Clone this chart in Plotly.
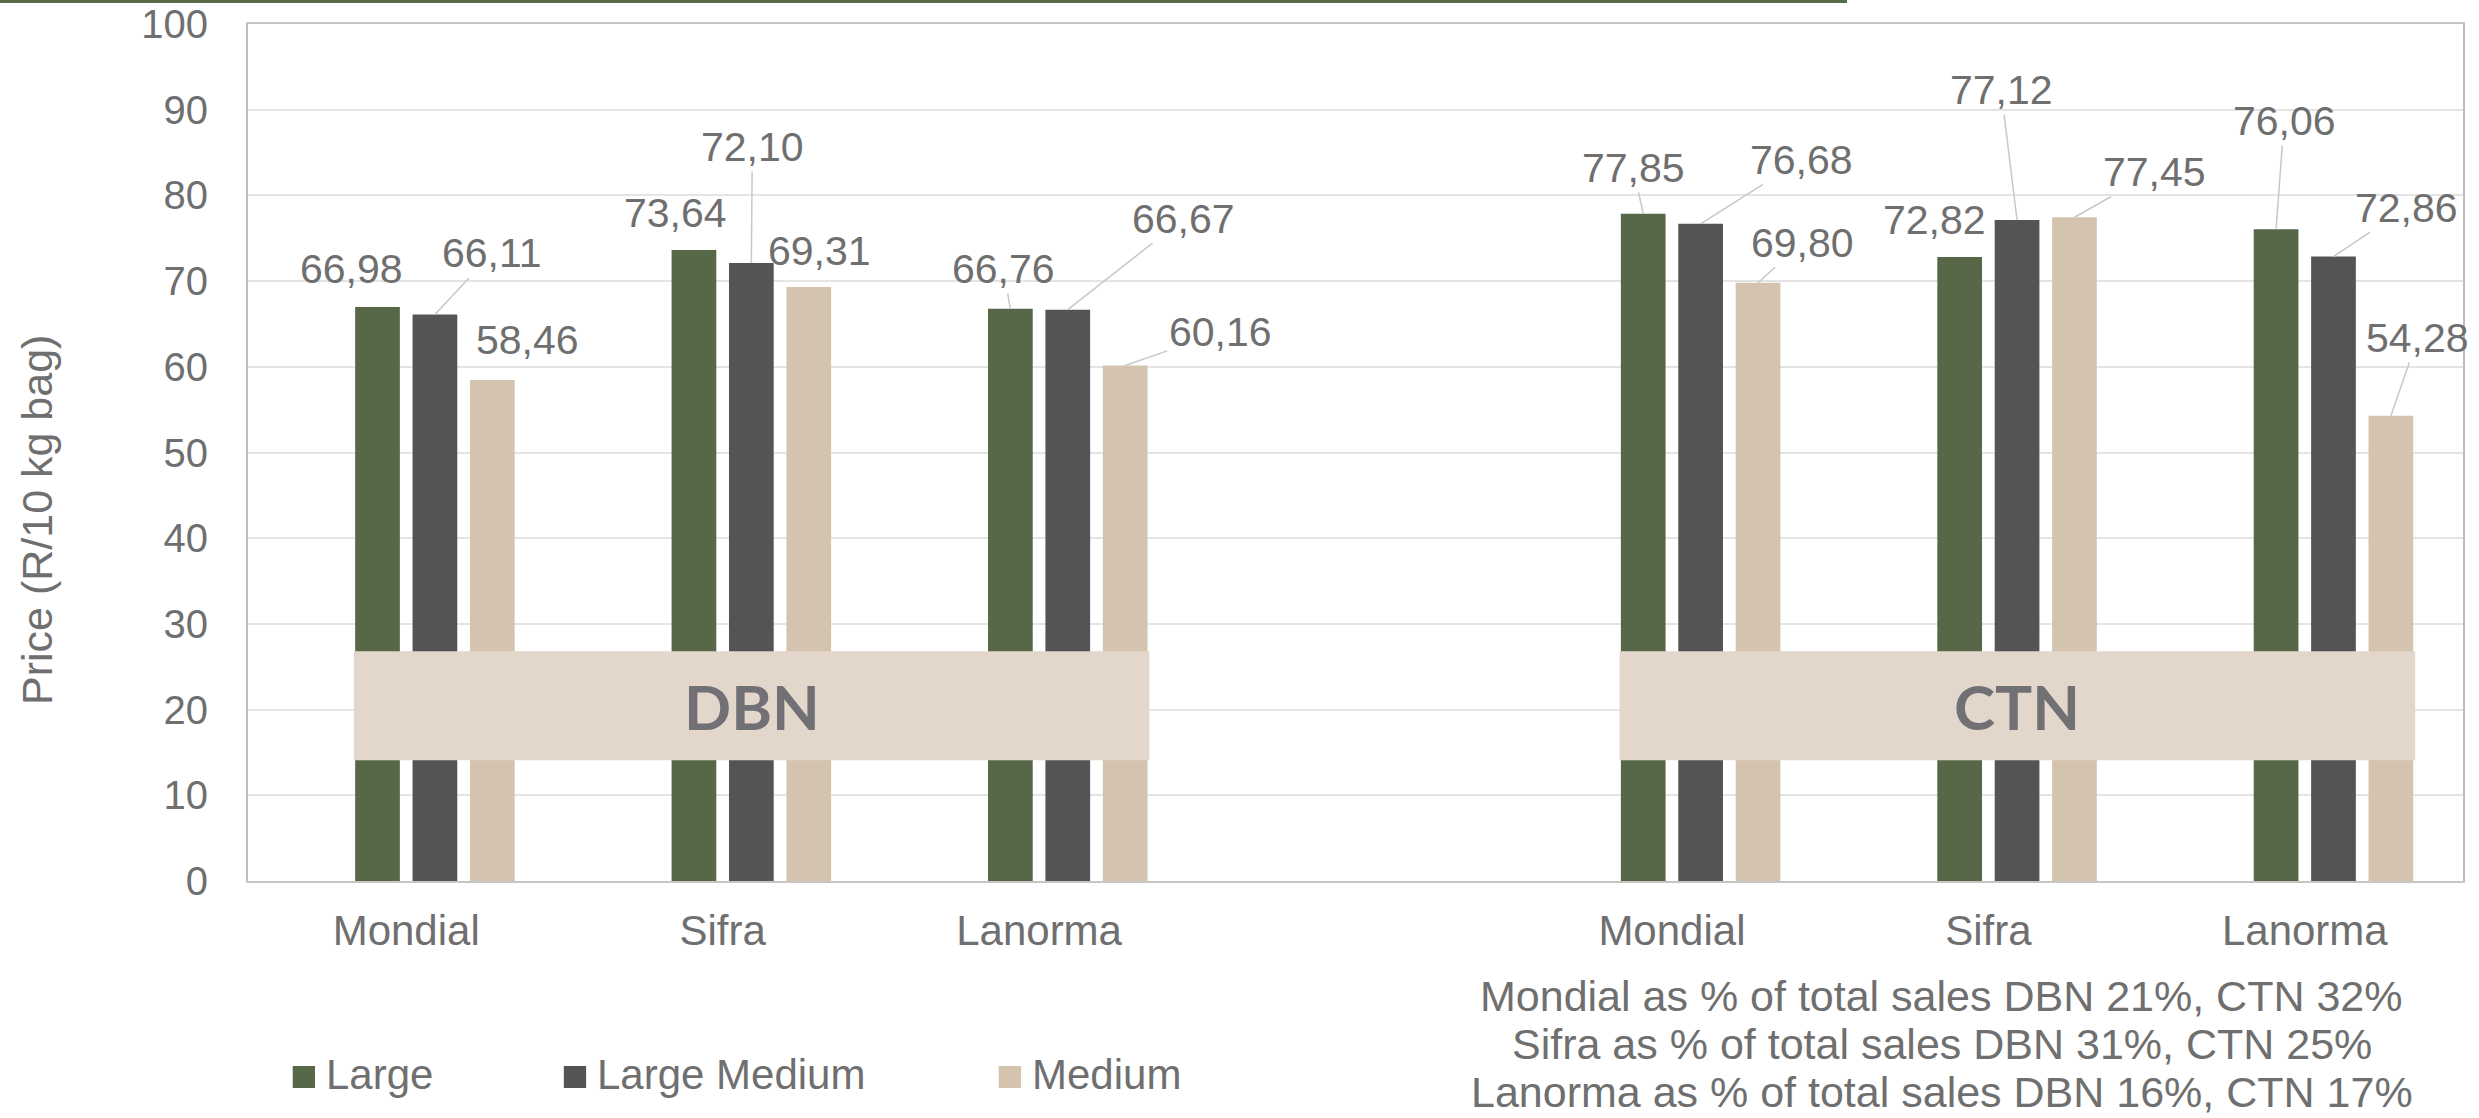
import plotly.graph_objects as go

# ---------------- data ----------------
markets = ["DBN", "CTN"]
cultivars = ["Mondial", "Sifra", "Lanorma"]
series_names = ["Large", "Large Medium", "Medium"]

large_dbn = [66.98, 73.64, 66.76]
large_ctn = [77.85, 72.82, 76.06]
large_medium_dbn = [66.11, 72.10, 66.67]
large_medium_ctn = [76.68, 77.12, 72.86]
medium_dbn = [58.46, 69.31, 60.16]
medium_ctn = [69.80, 77.45, 54.28]

share_notes = [
    "Mondial as % of total sales DBN 21%, CTN 32%",
    "Sifra as % of total sales DBN 31%, CTN 25%",
    "Lanorma as % of total sales DBN 16%, CTN 17%",
]
y_ticks = list(range(0, 101, 10))

# ---------------- styling ----------------
colors = ["#576848", "#545456", "#d4c3ae"]
txt = "#6f6f6f"
FONT = "Arial, Liberation Sans, sans-serif"
W, H = 2479, 1118
ML, MR, MT, MB = 248, 16, 24, 237
PW, PH = W - ML - MR, H - MT - MB

# category positions: 3 DBN slots, one empty slot, 3 CTN slots
positions = [0, 1, 2, 4, 5, 6]
ticktext = cultivars + cultivars
bar_w = 0.1413
pitch = 0.1814
centers_off = [-0.5 * pitch, 0.5 * pitch, 1.5 * pitch]

series_vals = [
    large_dbn + large_ctn,
    large_medium_dbn + large_medium_ctn,
    medium_dbn + medium_ctn,
]

# label offsets in px (dx, dy, leader line)
label_style = [
    [(-26, -38, False), (-18, -37, False), (-7, -40, True),
     (-10, -46, True), (-25, -37, False), (8, -108, True)],
    [(57, -61, True), (1, -116, True), (116, -91, True),
     (101, -64, True), (-16, -130, True), (73, -49, True)],
    [(35, -40, False), (11, -36, False), (95, -33, True),
     (44, -40, True), (80, -45, True), (27, -78, True)],
]

fig = go.Figure()
annotations = []
for si, name in enumerate(series_names):
    vals = series_vals[si]
    fig.add_trace(go.Bar(
        x=positions, y=vals, name=name,
        width=bar_w, offset=centers_off[si] - bar_w / 2,
        marker=dict(color=colors[si], line=dict(width=0)),
        showlegend=False,
    ))
    for k, (p, v) in enumerate(zip(positions, vals)):
        dx, dy, leader = label_style[si][k]
        annotations.append(dict(
            x=p + centers_off[si], y=v, xref="x", yref="y",
            text=f"{v:.2f}".replace(".", ","),
            showarrow=True, ax=dx, ay=dy, axref="pixel", ayref="pixel",
            arrowhead=0, arrowwidth=1.5,
            arrowcolor="#c8c8c8" if leader else "rgba(0,0,0,0)",
            font=dict(family=FONT, size=41, color=txt),
        ))

shapes = []
# market banners
for gi, m in enumerate(markets):
    x0 = positions[gi * 3] + centers_off[0] - bar_w / 2 - 0.004
    x1 = positions[gi * 3 + 2] + centers_off[2] + bar_w / 2 + 0.006
    shapes.append(dict(type="rect", xref="x", yref="y", x0=x0, x1=x1,
                       y0=14.1, y1=26.8, fillcolor="#e2d7ca",
                       line=dict(width=0), layer="above"))
    annotations.append(dict(x=(x0 + x1) / 2, y=20.4, xref="x", yref="y",
                            text=f"<b>{m}</b>", showarrow=False,
                            font=dict(family="Lato, Open Sans, sans-serif",
                                      size=62, color="#717175")))


def px_x(px):
    return (px - ML) / PW


def px_y(py):
    return (H - MB - py) / PH


# top decorative green line
shapes.append(dict(type="line", xref="paper", yref="paper",
                   x0=px_x(0), x1=px_x(1847), y0=px_y(1.4), y1=px_y(1.4),
                   line=dict(color="#566b47", width=3)))

# y-axis title
annotations.append(dict(x=px_x(37), y=px_y(520), xref="paper", yref="paper",
                        text="Price (R/10 kg bag)", textangle=-90,
                        showarrow=False, xanchor="center", yanchor="middle",
                        font=dict(family=FONT, size=43, color=txt)))

# notes
for i, (note, py) in enumerate(zip(share_notes, [996, 1044, 1092])):
    annotations.append(dict(x=px_x(1941.5), y=px_y(py), xref="paper",
                            yref="paper", text=note, showarrow=False,
                            xanchor="center", yanchor="middle",
                            font=dict(family=FONT, size=43, color=txt)))

# manual legend
leg_sq_x = [292.7, 563.8, 998.7]
for si, name in enumerate(series_names):
    sx = leg_sq_x[si]
    shapes.append(dict(type="rect", xref="paper", yref="paper",
                       x0=px_x(sx), x1=px_x(sx + 22.3),
                       y0=px_y(1088), y1=px_y(1066),
                       fillcolor=colors[si], line=dict(width=0)))
    annotations.append(dict(x=px_x(sx + 31), y=px_y(1074), xref="paper",
                            yref="paper", text=name, showarrow=False,
                            xanchor="left", yanchor="middle",
                            font=dict(family=FONT, size=42, color=txt)))

fig.update_layout(
    width=W, height=H, autosize=False,
    margin=dict(l=ML, r=MR, t=MT, b=MB, pad=0, autoexpand=False),
    paper_bgcolor="white", plot_bgcolor="white",
    barmode="overlay",
    shapes=shapes, annotations=annotations,
    showlegend=False,
    font=dict(family=FONT, color=txt),
)
fig.update_xaxes(
    range=[-0.5, 6.5], tickmode="array", tickvals=positions, ticktext=ticktext,
    tickfont=dict(family=FONT, size=42, color=txt), ticks="",
    showgrid=False, zeroline=False, showline=True, mirror=True,
    linecolor="#c6c6c6", linewidth=2, ticklabelstandoff=12, automargin=False,
)
fig.update_yaxes(
    range=[0, 100], tickmode="array", tickvals=y_ticks,
    tickfont=dict(family=FONT, size=40, color=txt), ticks="",
    showgrid=True, gridcolor="#e4e4e4", gridwidth=1.5, zeroline=False,
    showline=True, mirror=True, linecolor="#bdbdbd", linewidth=2,
    ticklabelstandoff=30, automargin=False,
)

fig.write_html("out.html", config={"displayModeBar": False},
               post_script="document.body.style.margin='0';")
